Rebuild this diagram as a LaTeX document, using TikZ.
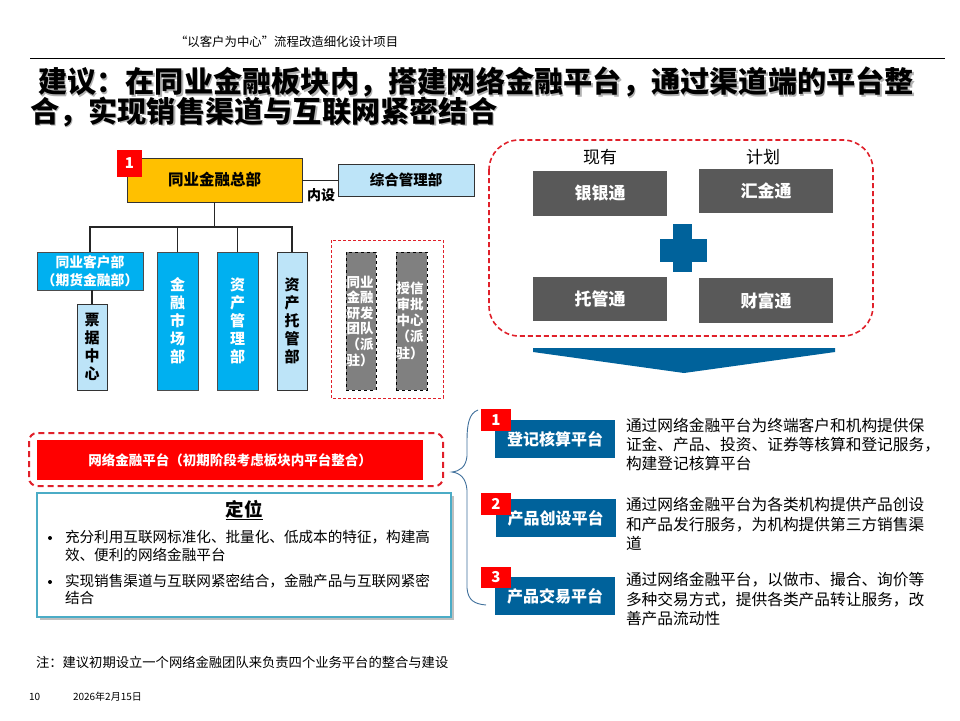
\documentclass[tikz,border=0pt]{standalone}
\usepackage{fontspec}
\setmainfont{Noto Sans CJK SC}
\newcommand\fsz[2]{\fontsize{#1}{#2}\selectfont}
\definecolor{cyanbox}{HTML}{00B0F0}
\definecolor{lightbox}{HTML}{BDE4F8}
\definecolor{goldbox}{HTML}{FFC000}
\definecolor{darkgreybox}{HTML}{595959}
\definecolor{midgreybox}{HTML}{808080}
\definecolor{deepblue}{HTML}{00629B}
\definecolor{dashred}{HTML}{E0202A}
\definecolor{tealline}{HTML}{4BACC6}
\definecolor{bracecol}{HTML}{41719C}
\tikzset{
  orgbox/.style={draw=black!80, line width=0.8pt, minimum width=#1, align=center},
  cyanv/.style={fill=cyanbox, draw=black!70, line width=0.6pt, text=white, font=\fsz{15}{18}\bfseries, align=center},
  lightv/.style={fill=lightbox, draw=black!80, line width=0.6pt, text=black, font=\fsz{15}{18}\bfseries, align=center},
  greyv/.style={fill=midgreybox, draw=black, dashed, line width=0.7pt, text=white, font=\fsz{13.5}{16}\bfseries, align=left},
  tong/.style={fill=darkgreybox, text=white, font=\fsz{17}{20}\bfseries, minimum width=134pt},
  plat/.style={fill=deepblue, text=white, font=\fsz{16}{19}\bfseries, minimum width=120pt, minimum height=38pt},
  numsq/.style={fill=red, text=white, font=\fsz{15}{18}\bfseries, minimum width=30pt, minimum height=22pt},
  desc/.style={anchor=west, align=left, font=\fsz{15.7}{19.3}\selectfont},
  bul/.style={anchor=west, font=\fsz{14.6}{18}\selectfont},
  bdot/.style={circle, fill=black, minimum size=4pt},
  ttl/.style={anchor=west, font=\fsz{29.2}{30}\bfseries},
  conn/.style={draw=black!85, line width=1.2pt},
  reddash/.style={draw=dashred, dashed, dash pattern=on 5pt off 3pt, line width=1.6pt}
}
\begin{document}
\begin{tikzpicture}[x=1pt,y=-1pt, every node/.style={inner sep=0pt, outer sep=0pt}]
\useasboundingbox (0,0) rectangle (960,720);
\fill[white] (0,0) rectangle (960,720);

% header
\node[anchor=west, font=\fsz{12.4}{14}\selectfont] (hdr) at (175,42) {“以客户为中心”流程改造细化设计项目};
\coordinate (hl1) at (30,58);
\coordinate (hl2) at (945,58);
\draw[line width=1pt, black] (hl1) -- (hl2);

% title with soft shadow
\node[ttl, text=black!30] (t1s) at (39.5,83.5) {建议：在同业金融板块内，搭建网络金融平台，通过渠道端的平台整};
\node[ttl, text=black!30] (t2s) at (31.5,113.5) {合，实现销售渠道与互联网紧密结合};
\node[ttl] (t1) at (38,82) {建议：在同业金融板块内，搭建网络金融平台，通过渠道端的平台整};
\node[ttl] (t2) at (30,112) {合，实现销售渠道与互联网紧密结合};

% org chart
\node[orgbox=175pt, minimum height=44pt, fill=goldbox, font=\fsz{15.5}{18}\bfseries] (hq) at (214.5,180) {同业金融总部};
\node[numsq, minimum width=25pt, minimum height=27pt] (n0) at (129.5,163.5) {1};
\node[orgbox=136pt, minimum height=32pt, fill=lightbox, font=\fsz{14.5}{17}\bfseries] (zh) at (406,180) {综合管理部};
\draw[conn, line width=1pt] (hq.east) -- (zh.west);
\node[font=\fsz{14}{16}\bfseries] (nei) at (321,195) {内设};

\node[fill=cyanbox, draw=black!70, line width=0.6pt, minimum width=106pt, minimum height=38pt, text=white, font=\fsz{13.8}{18}\bfseries, align=center] (tk) at (90,271) {同业客户部\\（期货金融部）};
\node[lightv, minimum width=30pt, minimum height=86pt] (pj) at (92,347) {票\\据\\中\\心};
\node[cyanv, minimum width=41pt, minimum height=138pt] (jr) at (177.5,321) {金\\融\\市\\场\\部};
\node[cyanv, minimum width=41pt, minimum height=138pt] (zc) at (237.5,321) {资\\产\\管\\理\\部};
\node[lightv, minimum width=30pt, minimum height=138pt] (tg) at (292,321) {资\\产\\托\\管\\部};

\coordinate (bus) at (214.5,227);
\draw[conn, line width=1.8pt] (hq.south) -- (bus);
\draw[conn] (tk.north) |- (bus);
\draw[conn] (tg.north) |- (bus);
\draw[conn] (jr.north) -- (jr.north |- bus);
\draw[conn] (zc.north) -- (zc.north |- bus);
\draw[conn] (pj.north) -- (pj.north |- tk.south);

\coordinate (rd1) at (331,240);
\coordinate (rd2) at (443,398);
\draw[reddash, line width=1pt, dash pattern=on 3pt off 2pt] (rd1) rectangle (rd2);
\node[greyv, minimum width=30pt, minimum height=138pt] (g1) at (361,321) {};
\node[font=\fsz{13.5}{15.6}\bfseries, text=white, align=left, anchor=west] (g1t) at (346.5,321) {同业\\金融\\研发\\团队\\（派\\驻）};
\node[greyv, minimum width=31pt, minimum height=138pt] (g2) at (411.5,321) {};
\node[font=\fsz{13.5}{16.3}\bfseries, text=white, align=left, anchor=west] (g2t) at (396.5,320.5) {授信\\审批\\中心\\（派\\驻）};

% top right
\draw[reddash, rounded corners=30pt] (489,140) rectangle (873,336);
\node[font=\fsz{17}{20}\selectfont] (xy) at (600,157) {现有};
\node[font=\fsz{17}{20}\selectfont] (jh) at (763,157) {计划};
\node[tong, minimum height=45pt] (yy) at (600,193.5) {银银通};
\node[tong, minimum height=44pt] (hj) at (766,191) {汇金通};
\node[tong, minimum height=44pt] (tgt) at (600,299) {托管通};
\node[tong, minimum height=45pt] (cf) at (766,300.5) {财富通};
\fill[deepblue] (673,224) rectangle (692,272);
\fill[deepblue] (660,239) rectangle (707,262);
\fill[deepblue] (533,348) -- (835,348) -- (835,352) -- (684,373) -- (533,352) -- cycle;

% bottom left
\draw[reddash, line width=2pt, dash pattern=on 6pt off 4pt, rounded corners=8pt] (29,433) rectangle (443,486);
\node[fill=red, minimum width=386pt, minimum height=40pt, text=white, font=\fsz{13.5}{16}\bfseries] (wl) at (230,460) {网络金融平台（初期阶段考虑板块内平台整合）};

\fill[black!25] (40,496) rectangle (454,620);
\node[fill=white, draw=tealline, line width=1.2pt, minimum width=414pt, minimum height=124pt] (dw) at (244,555) {};
\node[font=\fsz{18.5}{20}\bfseries] (dwt) at (244,510) {\underline{定位}};
\node[bdot] (b1) at (50,538) {};
\node[bul] (l1) at (65,537) {充分利用互联网标准化、批量化、低成本的特征，构建高};
\node[bul] (l2) at (65,555) {效、便利的网络金融平台};
\node[bdot] (b2) at (50,582) {};
\node[bul] (l3) at (65,581) {实现销售渠道与互联网紧密结合，金融产品与互联网紧密};
\node[bul] (l4) at (65,598) {结合};

\node[anchor=west, font=\fsz{13.3}{16}\selectfont] (note) at (36,662) {注：建议初期设立一个网络金融团队来负责四个业务平台的整合与建设};
\node[anchor=west, font=\fsz{10}{12}\selectfont] (pg) at (29,697) {10};
\node[anchor=west, font=\fsz{10}{12}\selectfont] (dt) at (73,697) {2026年2月15日};

% brace
\draw[bracecol, line width=0.9pt] (478,410) .. controls (469,413) and (467,425) .. (467,440) -- (467,456) .. controls (466,467) and (460,471) .. (452,472) .. controls (460,473) and (466,478) .. (467,490) -- (467,588) .. controls (468,600) and (474,604) .. (486,605);

% platforms
\node[plat] (p1) at (555,439) {登记核算平台};
\node[numsq] (n1) at (496,420) {1};
\node[plat] (p2) at (555.5,518) {产品创设平台};
\node[numsq] (n2) at (496,504) {2};
\node[plat] (p3) at (555,596) {产品交易平台};
\node[numsq, minimum height=21pt] (n3) at (496,577) {3};

\node[desc] (d1) at (626,444.5) {通过网络金融平台为终端客户和机构提供保\\证金、产品、投资、证券等核算和登记服务，\\构建登记核算平台};
\node[desc] (d2) at (626,524) {通过网络金融平台为各类机构提供产品创设\\和产品发行服务，为机构提供第三方销售渠\\道};
\node[desc] (d3) at (626,599) {通过网络金融平台，以做市、撮合、询价等\\多种交易方式，提供各类产品转让服务，改\\善产品流动性};
\end{tikzpicture}
\end{document}
